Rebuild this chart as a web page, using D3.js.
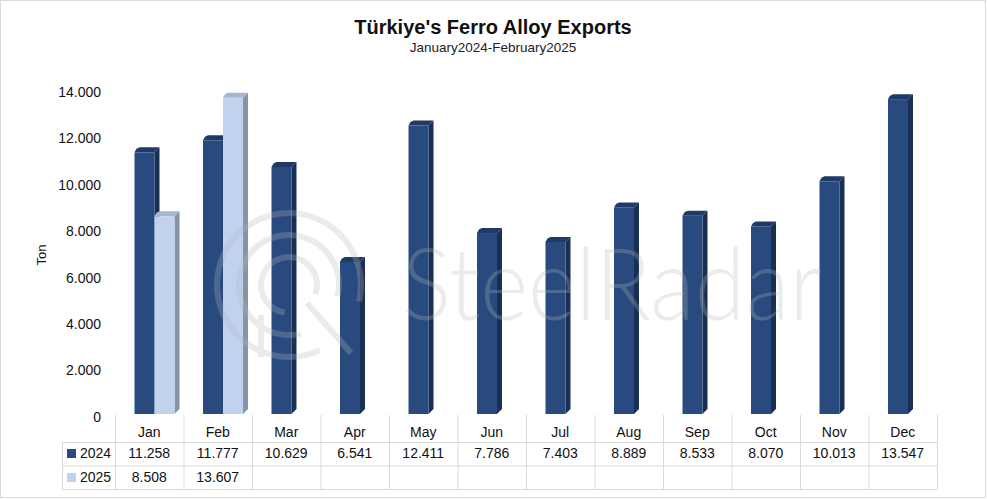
<!DOCTYPE html>
<html>
<head>
<meta charset="utf-8">
<script src="https://cdn.jsdelivr.net/npm/d3@7"></script>
<style>
  html, body { margin: 0; padding: 0; background: #fff; }
  svg { display: block; }
  text { font-family: "Liberation Sans", Arial, sans-serif; fill: #111; }
</style>
</head>
<body>
<svg id="chart" width="987" height="499"></svg>
<script>
// ---- data ----
const months = ["Jan","Feb","Mar","Apr","May","Jun","Jul","Aug","Sep","Oct","Nov","Dec"];
const seriesNames = ["2024","2025"];
const values2024 = [11258, 11777, 10629, 6541, 12411, 7786, 7403, 8889, 8533, 8070, 10013, 13547];
const values2025 = [8508, 13607, null, null, null, null, null, null, null, null, null, null];
const yTicks = [0, 2000, 4000, 6000, 8000, 10000, 12000, 14000];
const titleText = "Türkiye's Ferro Alloy Exports";
const subtitleText = "January2024-February2025";
const yAxisLabel = "Ton";

// ---- layout ----
const W = 987, H = 499;
const plotLeft = 115, plotRight = 937;
const baseY = 414, topY = 88.6;
const depthX = 5, depthY = 5;

const svg = d3.select("#chart");

// outer border
svg.append("rect").attr("x", 0.5).attr("y", 0.5).attr("width", W - 2).attr("height", H - 2)
  .attr("fill", "#fff").attr("stroke", "#d9d9d9");

// title
svg.append("text").attr("x", 493).attr("y", 34).attr("text-anchor", "middle")
  .style("font-size", "20px").style("font-weight", "bold").text(titleText);
svg.append("text").attr("x", 493).attr("y", 52).attr("text-anchor", "middle")
  .style("font-size", "13.5px").style("fill", "#222").text(subtitleText);

// scales
const x = d3.scaleBand().domain(months).range([plotLeft, plotRight]).padding(0);
const x1 = d3.scaleBand().domain(seriesNames).range([19.5, 59.5]).padding(0);
const y = d3.scaleLinear().domain([0, 14000]).range([baseY, topY]);

const fmt = v => d3.format(",")(v).replace(/,/g, ".");

// y axis tick labels
const yAxis = d3.axisLeft(y).tickValues(yTicks).tickFormat(fmt).tickSize(0).tickPadding(0);
const yg = svg.append("g").attr("transform", `translate(101,3)`).call(yAxis);
yg.select(".domain").remove();
yg.selectAll("text").style("font-size", "14px").style("fill", "#111")
  .attr("font-family", "Liberation Sans, Arial, sans-serif");

// y axis title
svg.append("text").attr("transform", "translate(46,255) rotate(-90)")
  .attr("text-anchor", "middle").style("font-size", "13px").text(yAxisLabel);

// bars
const colors = {
  "2024": { front: "#284a7e", side: "#1a2f54", top: "#1f3a66" },
  "2025": { front: "#c0d2ee", side: "#8793a6", top: "#a6b6cf" }
};
const barData = [];
months.forEach((m, i) => {
  barData.push({ month: m, series: "2024", value: values2024[i] });
  if (values2025[i] != null) barData.push({ month: m, series: "2025", value: values2025[i] });
});

const bars = svg.append("g").selectAll("g.bar").data(barData).join("g").attr("class", "bar");
bars.each(function(d) {
  const g = d3.select(this);
  const x0 = x(d.month) + x1(d.series);
  const w = x1.bandwidth();
  const yt = y(d.value);
  const c = colors[d.series];
  g.append("path").attr("d", `M${x0 + w},${yt} L${x0 + w + depthX},${yt - depthY} L${x0 + w + depthX},${baseY - depthY} L${x0 + w},${baseY} Z`)
    .attr("fill", c.side);
  g.append("path").attr("d", `M${x0},${yt} L${x0 + 2},${yt - 3.5} L${x0 + depthX},${yt - depthY} L${x0 + w + depthX},${yt - depthY} L${x0 + w},${yt} Z`)
    .attr("fill", c.top);
  g.append("rect").attr("x", x0).attr("y", yt).attr("width", w).attr("height", baseY - yt)
    .attr("fill", c.front);
});

// watermark (drawn over bars, semi-transparent)
const wm = svg.append("g").attr("opacity", 0.27).style("pointer-events", "none");
const wc = "#b8b8b8";
const cx = 289, cy = 285;
const arc = d3.arc();
wm.append("path").attr("transform", `translate(${cx},${cy})`)
  .attr("d", arc({ innerRadius: 69, outerRadius: 75, startAngle: 2.7, endAngle: 2.7 + 2 * Math.PI - 0.9 }))
  .attr("fill", wc);
wm.append("path").attr("transform", `translate(${cx},${cy})`)
  .attr("d", arc({ innerRadius: 47, outerRadius: 53, startAngle: 2.9, endAngle: 2.9 + 2 * Math.PI - 1.1 }))
  .attr("fill", wc);
wm.append("path").attr("transform", `translate(${cx},${cy})`)
  .attr("d", arc({ innerRadius: 25, outerRadius: 31, startAngle: 3.3, endAngle: 3.3 + 2 * Math.PI - 1.4 }))
  .attr("fill", wc);
wm.append("line").attr("x1", cx + 18).attr("y1", cy + 18).attr("x2", cx + 62).attr("y2", cy + 68)
  .attr("stroke", wc).attr("stroke-width", 6);
wm.append("line").attr("x1", cx - 28).attr("y1", cy + 30).attr("x2", cx - 28).attr("y2", cy + 72)
  .attr("stroke", wc).attr("stroke-width", 6);
wm.append("text").attr("x", 402).attr("y", 320)
  .attr("textLength", 420).attr("lengthAdjust", "spacingAndGlyphs")
  .style("font-family", "Lato, 'Open Sans', sans-serif").style("font-weight", "300")
  .style("font-size", "100px").style("fill", wc).text("SteelRadar");

// data table
const grid = "#d9d9d9";
const tbl = svg.append("g");
const rowTops = [442, 465.5, 489];
rowTops.forEach(ry => {
  tbl.append("line").attr("x1", 62).attr("x2", plotRight).attr("y1", ry + 0.5).attr("y2", ry + 0.5)
    .attr("stroke", grid);
});
months.forEach(m => {
  tbl.append("line").attr("x1", x(m) + 0.5).attr("x2", x(m) + 0.5).attr("y1", 415).attr("y2", 489)
    .attr("stroke", grid);
});
tbl.append("line").attr("x1", plotRight + 0.5).attr("x2", plotRight + 0.5).attr("y1", 415).attr("y2", 489).attr("stroke", grid);
tbl.append("line").attr("x1", 62.5).attr("x2", 62.5).attr("y1", 442).attr("y2", 489).attr("stroke", grid);

tbl.selectAll("text.mon").data(months).join("text").attr("class", "mon")
  .attr("x", m => x(m) + x.bandwidth() / 2).attr("y", 437).attr("text-anchor", "middle")
  .style("font-size", "14px").text(m => m);

const legendRows = [{ name: "2024", yb: 458, vals: values2024 }, { name: "2025", yb: 482, vals: values2025 }];
legendRows.forEach(r => {
  tbl.append("rect").attr("x", 67).attr("y", r.yb - 9).attr("width", 9).attr("height", 9)
    .attr("fill", colors[r.name].front);
  tbl.append("text").attr("x", 80).attr("y", r.yb).style("font-size", "14px").text(r.name);
  tbl.selectAll(null).data(months.map((m, i) => ({ m, v: r.vals[i] })).filter(d => d.v != null))
    .join("text").attr("x", d => x(d.m) + x.bandwidth() / 2).attr("y", r.yb)
    .attr("text-anchor", "middle").style("font-size", "14px").text(d => fmt(d.v));
});
</script>
</body>
</html>
